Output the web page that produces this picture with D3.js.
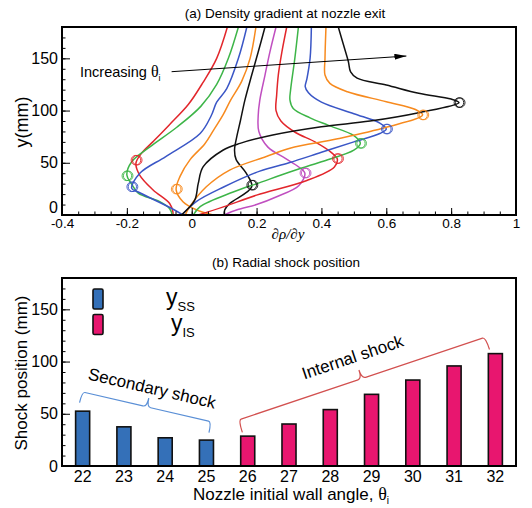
<!DOCTYPE html>
<html>
<head>
<meta charset="utf-8">
<script src="https://cdn.jsdelivr.net/npm/d3@7"></script>
<style>
  body { margin: 0; background: #fff; }
  svg { display: block; font-family: Arial, "Liberation Sans", sans-serif; }
</style>
</head>
<body>
<svg id="chart" width="532" height="508"></svg>
<script>
// ---- data ----
const angles = [22, 23, 24, 25, 26, 27, 28, 29, 30, 31, 32];
const ssAngles = [22, 23, 24, 25];
const isAngles = [26, 27, 28, 29, 30, 31, 32];
const ySS = [52.5, 37.5, 27, 24.8];
const yIS = [28.6, 40.2, 54, 68.6, 82.3, 95.8, 107.6];
const peakGrad = [-0.172, -0.2, -0.185, -0.048, 0.185, 0.349, 0.449, 0.52, 0.6, 0.712, 0.824];
const gradTicks = [-0.4, -0.2, 0, 0.2, 0.4, 0.6, 0.8, 1];
const yTicks = [0, 50, 100, 150];
const curveColors = ["#e2262b", "#3db548", "#3a56c6", "#f78a1e", "#111111", "#c04fc0",
                     "#e2262b", "#3db548", "#3a56c6", "#f78a1e", "#111111"];

// density gradient profiles [d(rho)/dy, y(mm)], one per wall angle
const profiles = [
  [[-0.058,0],[-0.058,3],[-0.068,11],[-0.119,24],[-0.16,38],[-0.172,49.5],[-0.155,59],[-0.12,70],[-0.07,86],[-0.01,106],[0.035,127],[0.077,150],[0.11,180]],
  [[-0.06,0],[-0.068,6],[-0.1,13],[-0.165,21],[-0.186,30],[-0.2,38.3],[-0.185,51],[-0.13,65],[-0.046,84],[0.028,104],[0.077,125],[0.113,150],[0.144,180]],
  [[-0.027,0],[-0.06,6],[-0.165,22],[-0.185,25.5],[-0.16,40],[-0.08,56],[0.026,78],[0.06,95],[0.077,108],[0.108,121],[0.144,150],[0.17,180]],
  [[0.066,0],[0.014,5],[-0.027,12.7],[-0.048,24],[-0.036,37],[-0.005,53],[0.04,68],[0.067,81],[0.097,96],[0.12,110],[0.154,128],[0.18,150],[0.198,180]],
  [[0.1,0],[0.102,5],[0.117,11],[0.185,27],[0.168,40],[0.137,53],[0.132,62],[0.139,75],[0.15,90],[0.164,110],[0.185,134],[0.205,156],[0.226,180]],
  [[0.1,0],[0.14,5],[0.2,10],[0.262,17.5],[0.33,28],[0.349,39.9],[0.33,46],[0.29,54],[0.235,65],[0.207,80],[0.205,95],[0.21,110],[0.226,134],[0.241,156],[0.26,180]],
  [[0.02,0],[0.1,8],[0.2,19],[0.355,33],[0.44,46],[0.449,53.6],[0.43,60],[0.38,70],[0.32,79],[0.275,90],[0.26,100],[0.262,115],[0.267,134],[0.278,156],[0.293,180]],
  [[0.005,0],[0.026,8],[0.128,22],[0.21,31],[0.3,41],[0.4,51],[0.5,62],[0.52,68.6],[0.5,76],[0.42,86],[0.365,93],[0.313,102],[0.303,110],[0.305,120],[0.318,150],[0.329,180]],
  [[-0.03,0],[0.015,13],[0.1,27],[0.21,42],[0.3,50],[0.4,60],[0.5,70],[0.58,78],[0.6,82.3],[0.58,88],[0.5,97],[0.4,108],[0.36,117],[0.35,123],[0.355,130],[0.365,150],[0.369,180]],
  [[-0.02,0],[-0.006,8],[0.045,27],[0.117,43],[0.23,56],[0.303,64],[0.45,73],[0.6,84],[0.712,95.8],[0.69,101],[0.6,108.5],[0.48,118],[0.426,126],[0.411,134],[0.411,150],[0.414,180]],
  [[-0.032,0],[0.009,14],[0.02,30],[0.035,46],[0.096,62],[0.149,68.6],[0.25,76.6],[0.4,84.5],[0.55,90],[0.7,98],[0.824,107.6],[0.8,111],[0.7,116.5],[0.6,124.5],[0.51,131],[0.49,137],[0.483,147],[0.468,163],[0.452,180]]
];
const arrowFrom = [-0.062, 137.2];
const arrowTo = [0.662, 152.2];

const svg = d3.select("#chart");

// ================= (a) density gradient =================
const A = { left: 62, right: 516, top: 27, bottom: 215 };
const xa = d3.scaleLinear().domain([-0.4, 1]).range([A.left, A.right]);
const ya = d3.scaleLinear().domain([0, 180]).range([A.bottom, A.top]);

svg.append("text").attr("x", 285).attr("y", 17.5).attr("text-anchor", "middle")
  .attr("font-size", 13.5).text("(a) Density gradient at nozzle exit");

svg.append("defs").append("clipPath").attr("id", "clipA")
  .append("rect").attr("x", A.left).attr("y", A.top)
  .attr("width", A.right - A.left).attr("height", A.bottom - A.top);

const line = d3.line().x(d => xa(d[0])).y(d => ya(d[1])).curve(d3.curveCatmullRom.alpha(0.5));
const plotA = svg.append("g").attr("clip-path", "url(#clipA)");
plotA.selectAll("path.prof").data(profiles).enter().append("path")
  .attr("class", "prof")
  .attr("d", line)
  .attr("fill", "none")
  .attr("stroke", (d, i) => curveColors[i])
  .attr("stroke-width", 1.5);

const shockY = ySS.concat(yIS);
[0, 1.3].forEach(off => {
  plotA.selectAll(null).data(peakGrad).enter().append("circle")
    .attr("cx", d => xa(d) + off)
    .attr("cy", (d, i) => ya(shockY[i]))
    .attr("r", 4.8)
    .attr("fill", "none")
    .attr("stroke", (d, i) => curveColors[i])
    .attr("stroke-width", 0.9);
});

// arrow + label
svg.append("defs").append("marker").attr("id", "arrowHead")
  .attr("viewBox", "0 0 12 6").attr("refX", 12).attr("refY", 3)
  .attr("markerWidth", 12).attr("markerHeight", 6).attr("markerUnits", "userSpaceOnUse")
  .attr("orient", "auto")
  .append("path").attr("d", "M0,0L12,3L0,6Z").attr("fill", "#000");
svg.append("line")
  .attr("x1", xa(arrowFrom[0])).attr("y1", ya(arrowFrom[1]))
  .attr("x2", xa(arrowTo[0])).attr("y2", ya(arrowTo[1]))
  .attr("stroke", "#000").attr("stroke-width", 1)
  .attr("marker-end", "url(#arrowHead)");
const incr = svg.append("text").attr("x", 80).attr("y", 77).attr("font-size", 14.5);
incr.append("tspan").text("Increasing ");
incr.append("tspan").attr("font-family", "'Liberation Serif', serif").attr("font-size", 16).text("\u03b8");
incr.append("tspan").attr("font-size", 9).attr("dy", 4).text("i");

// axes (a)
svg.append("g").attr("transform", `translate(0,${A.bottom})`)
  .call(d3.axisBottom(xa).tickValues(d3.range(-0.4, 1.0001, 0.05)).tickSize(-3.5).tickFormat(""))
  .call(g => g.select(".domain").remove());
svg.append("g").attr("transform", `translate(0,${A.bottom})`)
  .call(d3.axisBottom(xa).tickValues(gradTicks).tickSize(-7).tickPadding(3.4)
    .tickFormat(d => String(+d.toFixed(1))))
  .call(g => g.select(".domain").remove())
  .call(g => g.selectAll("text").attr("font-size", 13.5).attr("font-family", "Arial, sans-serif").attr("fill", "#000"));
svg.append("g").attr("transform", `translate(${A.left},0)`)
  .call(d3.axisLeft(ya).tickValues(d3.range(0, 181, 10)).tickSize(-3.5).tickFormat(""))
  .call(g => g.select(".domain").remove());
svg.append("g").attr("transform", `translate(${A.left},0)`)
  .call(d3.axisLeft(ya).tickValues(yTicks).tickSize(-8).tickPadding(4))
  .call(g => g.select(".domain").remove())
  .call(g => g.selectAll("text").attr("font-size", 16).attr("font-family", "Arial, sans-serif").attr("fill", "#000")
    .attr("dy", d => d === 0 ? "-0.18em" : "0.32em"));
svg.append("rect").attr("x", A.left).attr("y", A.top)
  .attr("width", A.right - A.left).attr("height", A.bottom - A.top)
  .attr("fill", "none").attr("stroke", "#000").attr("stroke-width", 2);

svg.append("text").attr("transform", "translate(28,122) rotate(-90)")
  .attr("text-anchor", "middle").attr("font-size", 18).text("y(mm)");
svg.append("text").attr("x", 288).attr("y", 239).attr("text-anchor", "middle")
  .attr("font-family", "'Liberation Serif', 'DejaVu Serif', serif").attr("font-style", "italic")
  .attr("font-size", 15).text("\u2202\u03c1/\u2202y");

// ================= (b) radial shock position =================
const B = { left: 62, right: 516, top: 278, bottom: 466 };
const xb = d3.scaleBand().domain(angles).range([B.left, B.right]).paddingInner(0.66).paddingOuter(0.33);
const yb = d3.scaleLinear().domain([0, 180]).range([B.bottom, B.top]);
const blue = "#3470b8", pink = "#e8166f";

svg.append("text").attr("x", 286).attr("y", 267).attr("text-anchor", "middle")
  .attr("font-size", 13.5).text("(b) Radial shock position");

svg.append("g").attr("transform", `translate(${B.left},0)`)
  .call(d3.axisLeft(yb).tickValues(d3.range(0, 181, 10)).tickSize(-3.5).tickFormat(""))
  .call(g => g.select(".domain").remove());
svg.append("g").attr("transform", `translate(${B.left},0)`)
  .call(d3.axisLeft(yb).tickValues(yTicks).tickSize(-8).tickPadding(4))
  .call(g => g.select(".domain").remove())
  .call(g => g.selectAll("text").attr("font-size", 16).attr("font-family", "Arial, sans-serif").attr("fill", "#000"));
svg.append("g").attr("transform", `translate(0,${B.bottom})`)
  .call(d3.axisBottom(xb).tickSize(0).tickPadding(4.3))
  .call(g => g.select(".domain").remove())
  .call(g => g.selectAll("text").attr("font-size", 16).attr("font-family", "Arial, sans-serif").attr("fill", "#000"));

const bars = svg.append("g").attr("stroke", "#111").attr("stroke-width", 1.6);
bars.selectAll("rect.ss").data(ssAngles).enter().append("rect").attr("class", "ss")
  .attr("x", d => xb(d)).attr("width", xb.bandwidth())
  .attr("y", (d, i) => yb(ySS[i])).attr("height", (d, i) => B.bottom - yb(ySS[i]))
  .attr("fill", blue);
bars.selectAll("rect.is").data(isAngles).enter().append("rect").attr("class", "is")
  .attr("x", d => xb(d)).attr("width", xb.bandwidth())
  .attr("y", (d, i) => yb(yIS[i])).attr("height", (d, i) => B.bottom - yb(yIS[i]))
  .attr("fill", pink);

// legend
const legend = [
  { color: blue, sub: "SS", tx: 166, y: 299 },
  { color: pink, sub: "IS", tx: 171, y: 324.5 }
];
legend.forEach(l => {
  svg.append("rect").attr("x", 93).attr("y", l.y - 10).attr("width", 10).attr("height", 20)
    .attr("rx", 1.5).attr("fill", l.color).attr("stroke", "#111").attr("stroke-width", 1.6);
  const t = svg.append("text").attr("x", l.tx).attr("y", l.y + 6).attr("font-size", 23);
  t.append("tspan").text("y");
  t.append("tspan").attr("font-size", 13).attr("dy", 6).text(l.sub);
});

// brackets
const brackets = [
  { from: 22, to: 25, v0: 71, v1: 42.3, off0: -0.6, off1: 5, leg: 11, color: "#5a8fd6",
    label: "Secondary shock", lift: 19, along: 1 },
  { from: 26, to: 32, v0: 44, v1: 123.4, off0: -9.5, off1: -10, leg: 13, color: "#d2504f",
    label: "Internal shock", lift: 23, along: -2 }
];
brackets.forEach(b => {
  const x0 = xb(b.from) + xb.bandwidth() / 2 + b.off0, y0 = yb(b.v0);
  const x1 = xb(b.to) + xb.bandwidth() / 2 + b.off1, y1 = yb(b.v1);
  const len = Math.hypot(x1 - x0, y1 - y0);
  const ux = (x1 - x0) / len, uy = (y1 - y0) / len;
  const nx = -uy, ny = ux; // points downward
  const mx = (x0 + x1) / 2, my = (y0 + y1) / 2;
  const c = 9;
  const p = d3.path();
  p.moveTo(x0 + nx * b.leg, y0 + ny * b.leg);
  p.quadraticCurveTo(x0, y0, x0 + ux * 3, y0 + uy * 3);
  p.lineTo(mx - ux * 4, my - uy * 4);
  p.quadraticCurveTo(mx, my, mx - nx * c, my - ny * c);
  p.quadraticCurveTo(mx, my, mx + ux * 4, my + uy * 4);
  p.lineTo(x1 - ux * 3, y1 - uy * 3);
  p.quadraticCurveTo(x1, y1, x1 + nx * b.leg, y1 + ny * b.leg);
  svg.append("path").attr("d", p.toString()).attr("fill", "none")
    .attr("stroke", b.color).attr("stroke-width", 1.2);
  const ang = Math.atan2(y1 - y0, x1 - x0) * 180 / Math.PI;
  const tx = mx - nx * b.lift + ux * b.along, ty = my - ny * b.lift + uy * b.along;
  svg.append("text").attr("transform", `translate(${tx},${ty}) rotate(${ang})`)
    .attr("text-anchor", "middle").attr("dominant-baseline", "central")
    .attr("font-size", 17).text(b.label);
});

svg.append("rect").attr("x", B.left).attr("y", B.top)
  .attr("width", B.right - B.left).attr("height", B.bottom - B.top)
  .attr("fill", "none").attr("stroke", "#000").attr("stroke-width", 2);

svg.append("text").attr("transform", "translate(27,373) rotate(-90)")
  .attr("text-anchor", "middle").attr("font-size", 17).text("Shock position (mm)");
const xl = svg.append("text").attr("x", 291).attr("y", 500).attr("text-anchor", "middle").attr("font-size", 17);
xl.append("tspan").text("Nozzle initial wall angle, ");
xl.append("tspan").attr("font-family", "'Liberation Serif', serif").attr("font-size", 18).text("\u03b8");
xl.append("tspan").attr("font-size", 10).attr("dy", 4).text("i");
</script>
</body>
</html>
